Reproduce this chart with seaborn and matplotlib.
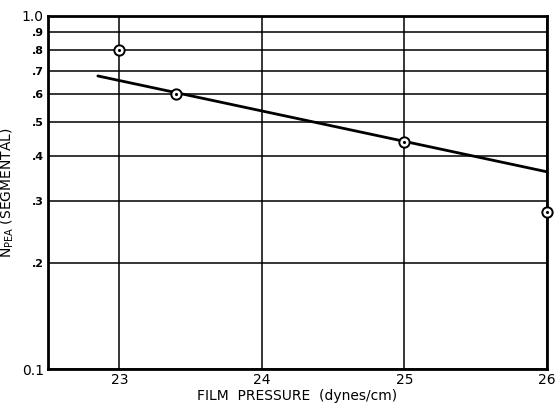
import matplotlib
matplotlib.use("Agg")
import matplotlib.pyplot as plt
import seaborn as sns
import pandas as pd

# Measured segmental N_PEA values versus film pressure
pressure = [23.0, 23.4, 25.0, 26.0]
n_pea = [0.80, 0.60, 0.44, 0.278]

# Fitted straight line (on the log scale)
fit_pressure = [22.85, 26.0]
fit_n_pea = [0.676, 0.362]

x_ticks = [23, 24, 25, 26]
y_ticks = [0.1, 0.2, 0.3, 0.4, 0.5, 0.6, 0.7, 0.8, 0.9, 1.0]
y_tick_labels = ["0.1", ".2", ".3", ".4", ".5", ".6", ".7", ".8", ".9", "1.0"]

sns.set_style("white")
plt.rcParams["font.family"] = ["DejaVu Sans"]
plt.rcParams["text.color"] = "black"
plt.rcParams["axes.labelcolor"] = "black"
plt.rcParams["xtick.color"] = "black"
plt.rcParams["ytick.color"] = "black"

fig = plt.figure(figsize=(5.58, 4.07), dpi=100)
ax = fig.add_axes([0.086, 0.093, 0.894, 0.868])

ax.set_yscale("log")
ax.set_xlim(22.5, 26.0)
ax.set_ylim(0.1, 1.0)

# grid
for xv in x_ticks:
    ax.axvline(xv, color="black", lw=1.1, zorder=1)
for yv in y_ticks:
    ax.axhline(yv, color="black", lw=1.1, zorder=1)

fit_df = pd.DataFrame({"p": fit_pressure, "n": fit_n_pea})
sns.lineplot(data=fit_df, x="p", y="n", ax=ax, color="black", lw=2.0, zorder=3)

pts = pd.DataFrame({"p": pressure, "n": n_pea})
sns.scatterplot(data=pts, x="p", y="n", ax=ax, s=55, marker="o",
                facecolor="white", edgecolor="black", linewidth=1.4,
                zorder=5, clip_on=False)
sns.scatterplot(data=pts, x="p", y="n", ax=ax, s=5, marker="o",
                color="black", linewidth=0, zorder=6, clip_on=False)

ax.set_xticks(x_ticks)
ax.set_xticklabels([str(v) for v in x_ticks], fontsize=10)
ax.set_yticks(y_ticks)
ax.set_yticklabels(y_tick_labels, fontsize=8, fontweight="bold")
for lab in ax.get_yticklabels():
    if lab.get_text() in ("0.1", "1.0"):
        lab.set_fontsize(10)
        lab.set_fontweight("normal")
ax.minorticks_off()
ax.tick_params(axis="both", length=0, pad=3)

for s in ax.spines.values():
    s.set_color("black")
    s.set_linewidth(2.0)

ax.set_xlabel("FILM  PRESSURE  (dynes/cm)", fontsize=10, labelpad=1)
ax.set_ylabel(r"N$_{\mathrm{PEA}}$ (SEGMENTAL)", fontsize=10, labelpad=4)

fig.savefig("out.png", dpi=100)
